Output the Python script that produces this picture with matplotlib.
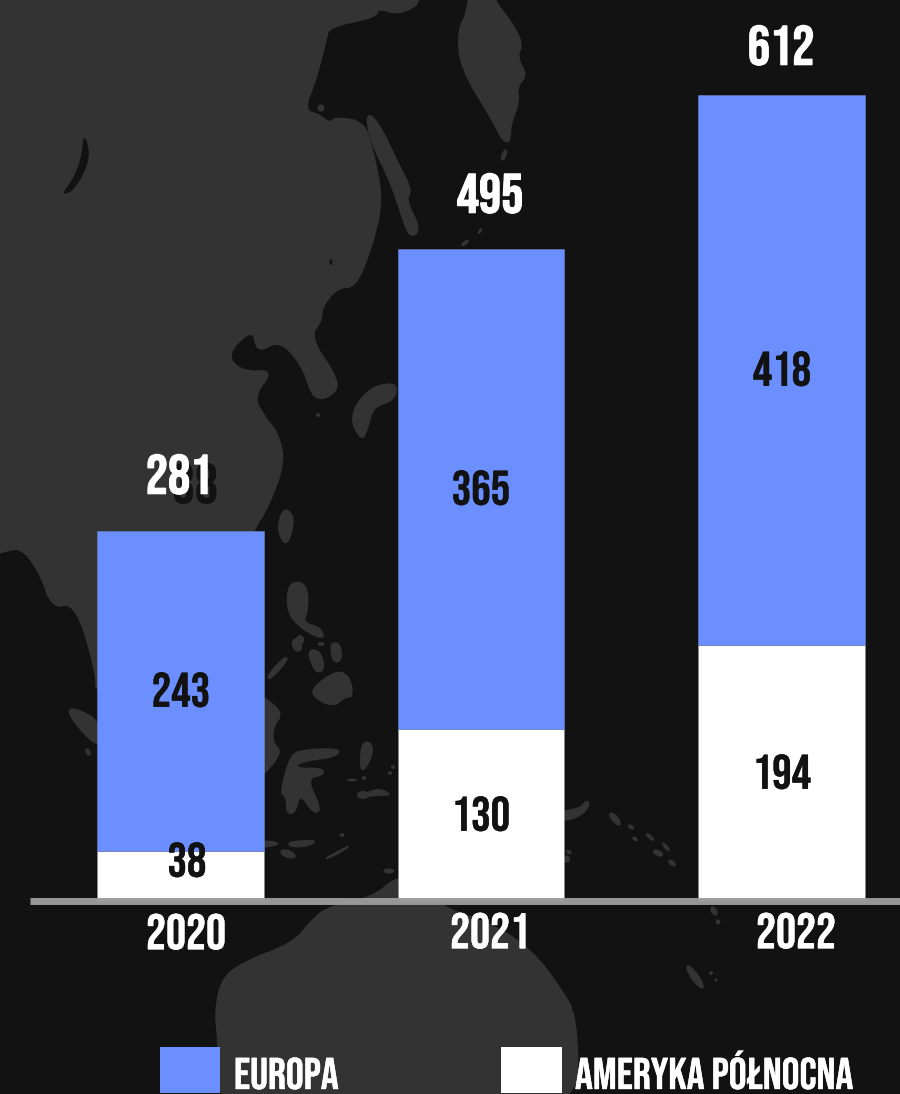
import matplotlib
matplotlib.use('Agg')
import matplotlib.pyplot as plt
import matplotlib.patheffects as pe
from matplotlib.patches import Polygon, Ellipse, Rectangle

plt.rcParams['font.family'] = ['Bebas Neue', 'Oswald', 'Roboto', 'DejaVu Sans']

# dane
years = ['2020', '2021', '2022']
europa = [243, 365, 418]
ameryka = [38, 130, 194]
totals = [281, 495, 612]
series_names = ['EUROPA', 'AMERYKA PÓŁNOCNA']

BG = '#121212'
LAND = '#333333'
BLUE = '#6b8fff'
DARK = '#121212'


def zoomed(pts, x0, y0, sx=3.0, sy=3.0):
    return [(x0 + x / sx, y0 + y / sy) for x, y in pts]


def rounded(pts, n=2):
    # corner cutting, only so the coastlines are not so pointy
    for _ in range(n):
        out = []
        for i, (x1, y1) in enumerate(pts):
            x2, y2 = pts[(i + 1) % len(pts)]
            out.append((0.75 * x1 + 0.25 * x2, 0.75 * y1 + 0.25 * y2))
            out.append((0.25 * x1 + 0.75 * x2, 0.25 * y1 + 0.75 * y2))
        pts = out
    return pts


fig = plt.figure(figsize=(9, 10.94), dpi=100, facecolor=BG)

# tlo: mapa, w pikselach obrazka
bg = fig.add_axes([0, 0, 1, 1])
bg.set_xlim(0, 900)
bg.set_ylim(1094, 0)
bg.axis('off')

asia = [(-600, -100), (432, -100), (425, 0), (400, 15), (377, 8), (377, 17), (329, 27), (326, 40), (316, 80),
        (304, 110), (320, 115), (329, 123), (337, 117), (364, 122), (373, 150), (383, 200), (372, 247),
        (356, 287), (337, 288), (322, 307), (322, 320), (310, 337), (337, 377), (337, 393),
        (314, 402), (303, 367), (280, 340), (257, 353), (253, 328), (226, 355), (243, 372),
        (274, 370), (253, 397), (267, 420), (278, 433), (285, 463), (267, 510),
        (253, 530), (230, 600), (210, 680), (97, 700), (95, 667), (75, 603), (52, 608),
        (40, 573), (21, 547), (0, 553), (-30, 560)]
baikal = [(84, 133), (90, 155), (82, 177), (71, 192), (62, 194), (73, 180), (82, 157)]
kamchatka = [(470, -20), (494, -20), (494, 0), (510, 20), (523, 43), (517, 57), (527, 75), (517, 87), (519, 103),
             (511, 123), (510, 143), (502, 140), (494, 123), (460, 67), (458, 30), (467, 13)]
sakhalin = [(366, 112), (379, 123), (398, 163), (412, 190), (406, 200), (421, 230), (410, 238),
            (402, 217), (391, 183), (370, 140)]
japan = [(397, 382), (368, 388), (349, 417), (362, 442), (368, 427), (373, 407), (395, 400)]
taiwan = [(287, 508), (295, 520), (287, 547), (278, 533), (280, 515)]
luzon = [(288, 582), (307, 583), (308, 610), (303, 623), (320, 627), (325, 640), (303, 630), (287, 613)]
mindanao = [(313, 687), (337, 670), (350, 677), (353, 697), (345, 697), (333, 707), (313, 697)]
samar = [(330, 643), (340, 643), (342, 660), (333, 663)]
panay = [(307, 650), (320, 650), (325, 670), (315, 673)]
palawan = [(267, 676), (285, 656), (288, 660), (270, 680)]
borneo = [(250, 690), (264, 697), (283, 713), (273, 727), (273, 743), (282, 752), (264, 775), (250, 780)]
sulawesi = zoomed([(840, 205), (830, 230), (720, 245), (705, 265), (790, 265), (790, 285), (740, 295),
                   (785, 390), (760, 400), (720, 340), (705, 400), (680, 400), (680, 350), (660, 340),
                   (690, 230), (720, 210)], 60, 680)
sumatra = zoomed([(20, 90), (50, 85), (120, 125), (120, 205), (60, 150)], 60, 680)
java1 = zoomed([(600, 480), (670, 490), (600, 505)], 60, 680)
java2 = zoomed([(685, 485), (775, 480), (740, 500), (690, 500)], 60, 680)
timor = zoomed([(785, 540), (880, 490), (830, 525)], 60, 680)
seram = zoomed([(915, 340), (960, 325), (995, 345), (960, 345), (915, 350)], 60, 680)
halmahera = zoomed([(905, 190), (930, 185), (940, 215), (915, 270), (900, 265)], 60, 680)
guinea = zoomed([(0, 95), (60, 85), (80, 60), (90, 75), (60, 110), (0, 125)], 560, 780)
australia = [(396, 877), (373, 897), (327, 907), (310, 922), (293, 943), (241, 963), (221, 980),
             (215, 1013), (218, 1040), (221, 1120), (345, 1120), (352, 1088), (367, 1120),
             (577, 1120), (578, 1017), (557, 983), (534, 953), (499, 927), (436, 905), (420, 877)]

for shape in [asia, kamchatka, sakhalin, japan, taiwan, luzon, mindanao, samar, panay, palawan, borneo,
              sulawesi, sumatra, java1, java2, timor, seram, halmahera, guinea, australia]:
    bg.add_patch(Polygon(rounded(shape), closed=True, fc=LAND, ec=LAND, lw=1, joinstyle='round'))
bg.add_patch(Polygon(rounded(baikal), closed=True, fc=BG, ec=BG, lw=0.5))

# male wyspy (x, y, szer, wys, kat)
small_islands = [(88, 752, 5, 8, -30), (352, 780, 10, 3, 0), (363, 795, 12, 8, 0), (288, 854, 5, 4, 0),
                 (288, 854, 16, 8, 20), (389, 871, 11, 5, 0), (615, 819, 16, 7, 50), (631, 827, 7, 4, 30),
                 (635, 839, 6, 4, 40), (650, 837, 11, 4, 40), (666, 847, 11, 4, 50), (658, 853, 11, 6, 25),
                 (672, 863, 9, 5, 40), (569, 852, 6, 4, 30), (567, 859, 6, 7, 0), (714, 911, 6, 10, -30),
                 (718, 922, 5, 5, 0), (695, 977, 28, 8, 55), (711, 973, 4, 4, 0), (716, 980, 3, 3, 0),
                 (342, 835, 5, 4, 0), (402, 745, 4, 5, 0), (390, 773, 4, 4, 0), (393, 767, 4, 4, 0),
                 (364, 778, 4, 4, 0), (321, 644, 7, 4, 0), (300, 640, 8, 10, 0), (297, 645, 10, 14, -20),
                 (321, 108, 7, 7, 0), (504, 155, 5, 12, 20), (465, 243, 9, 4, -40), (480, 231, 3, 7, 30),
                 (318, 415, 4, 4, 0)]
for x, y, w, h, a in small_islands:
    bg.add_patch(Ellipse((x, y), w, h, angle=a, fc=LAND, ec='none'))
bg.add_patch(Ellipse((331, 262), 3, 6, fc=BG, ec='none'))

# slupki, skala: 0 na 900.5 px, 1.316 px na jednostke
ax = fig.add_axes([0, 0, 1, 1], facecolor='none')
ax.set_xlim(-0.6, 2.394)
ax.set_ylim(-147.0, 684.3)
ax.axis('off')
xs = range(len(years))
ax.bar(xs, ameryka, width=0.555, color='white', edgecolor='#8a8a8a', linewidth=0.4)
ax.bar(xs, europa, width=0.555, bottom=ameryka, color=BLUE, edgecolor='#6f82c8', linewidth=0.4)
ax.hlines(0, -0.5, 2.394, color='#9b9b9b', linewidth=5.0, alpha=0.97, zorder=3)

# teksty, w pikselach obrazka
txt = fig.add_axes([0, 0, 1, 1], facecolor='none')
txt.set_xlim(0, 900)
txt.set_ylim(1094, 0)
txt.axis('off')


def label(x, y, s, size, color, bold=0.0):
    t = txt.text(x, y, s, ha='center', va='center_baseline', fontsize=size, color=color)
    if bold:
        t.set_path_effects([pe.withStroke(linewidth=bold, foreground=color)])
    return t


for x, y, v in zip([181, 481, 782], [689, 487, 368], europa):
    label(x, y, v, 35, DARK, 0.2)
for x, y, v in zip([187, 481, 782], [859, 813, 771], ameryka):
    label(x, y, v, 35, DARK, 0.2)
# ukryta etykieta pod suma 2020
label(195, 483, ameryka[0], 41, DARK, 0.2)
for x, y, v in zip([179, 490, 781], [474, 193, 45], totals):
    label(x, y, v, 40, 'white', 0.8)
for x, y, s in zip([186, 490, 796], [931, 930, 930], years):
    label(x, y, s, 36, 'white', 0.3)

# legenda
txt.add_patch(Rectangle((160, 1047), 60, 46, fc=BLUE, ec='none'))
txt.add_patch(Rectangle((501, 1047), 61, 46, fc='white', ec='none'))
for x, s in zip([234, 575], series_names):
    t = txt.text(x, 1089, s, ha='left', va='baseline', fontsize=32, color='white')
    t.set_path_effects([pe.withStroke(linewidth=0.3, foreground='white')])

fig.savefig('out.png', dpi=100, facecolor=BG)
